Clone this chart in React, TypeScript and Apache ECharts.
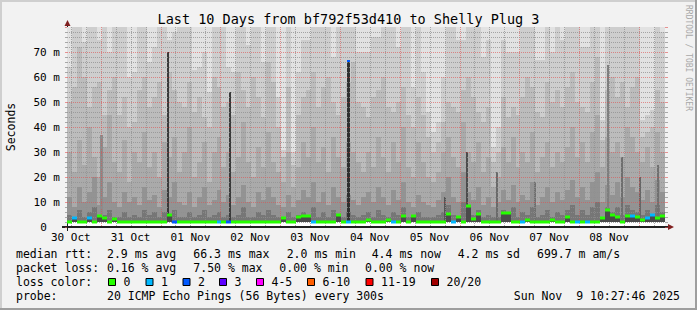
import React, { useEffect, useRef } from 'react';
import * as echarts from 'echarts';

// ---------- time frame (hours since 30 Oct 00:00) ----------
const START_HOUR = 10.4628; // Thu Oct 30 10:27:46
const END_HOUR = START_HOUR + 240; // Sun Nov 9 10:27:46
const COL_HOURS = 2;
const Y_MAX = 80;
const SMOKE_BASE = 2.0;

const dayLabels = ['30 Oct', '31 Oct', '01 Nov', '02 Nov', '03 Nov', '04 Nov', '05 Nov', '06 Nov', '07 Nov', '08 Nov'];
const dayLabelHours = [12, 36, 60, 84, 108, 132, 156, 180, 204, 228];

// ---------- smoke bands (ms), one value per 2h column ----------
const smokeTop1 = [
  64, 80, 80, 74, 80, 80, 75, 80, 70, 80,
  80, 80, 60, 62, 80, 80, 66, 72, 80, 80,
  75, 78, 80, 80, 80, 63, 64, 70, 54, 80,
  80, 80, 64, 62, 80, 80, 73, 80, 80, 66,
  80, 80, 52, 31, 80, 30, 62, 75, 75, 80,
  80, 80, 80, 68, 80, 80, 80, 80, 70, 70,
  70, 76, 76, 80, 80, 80, 72, 80, 80, 56,
  80, 62, 46, 38, 42, 60, 80, 80, 75, 75,
  80, 80, 80, 68, 75, 32, 40, 75, 70, 70,
  70, 80, 80, 80, 67, 67, 80, 70, 80, 75,
  80, 80, 80, 72, 72, 80, 80, 43, 80, 80,
  80, 80, 80, 80, 80, 43, 45, 47, 80, 78,
];
const smokeTop2 = [
  50, 56, 72, 60, 48, 56, 58, 45, 55, 60,
  45, 52, 40, 42, 55, 60, 48, 52, 58, 45,
  62, 55, 50, 48, 58, 46, 52, 44, 40, 60,
  56, 48, 50, 45, 62, 55, 48, 60, 52, 44,
  66, 58, 40, 28, 56, 25, 45, 52, 55, 62,
  48, 56, 60, 50, 45, 52, 58, 66, 50, 48,
  44, 52, 55, 60, 48, 46, 50, 56, 45, 40,
  52, 45, 36, 30, 34, 42, 50, 48, 46, 55,
  60, 52, 46, 42, 48, 26, 30, 52, 44, 48,
  45, 52, 60, 56, 46, 44, 58, 50, 55, 48,
  56, 62, 50, 48, 46, 58, 68, 35, 55, 60,
  52, 58, 48, 56, 60, 36, 38, 40, 55, 50,
];
const smokeTop3 = [
  30, 22, 35, 25, 40, 28, 20, 32, 45, 26,
  22, 35, 18, 30, 26, 38, 24, 30, 20, 34,
  28, 36, 22, 30, 40, 20, 26, 34, 18, 30,
  36, 24, 30, 22, 28, 42, 26, 20, 32, 24,
  38, 26, 22, 18, 30, 16, 24, 34, 28, 40,
  26, 32, 22, 36, 28, 24, 34, 30, 26, 22,
  30, 24, 36, 28, 22, 34, 26, 40, 24, 20,
  34, 26, 20, 18, 22, 30, 36, 28, 24, 42,
  30, 26, 34, 22, 28, 16, 20, 32, 26, 36,
  24, 30, 26, 38, 22, 28, 34, 24, 30, 26,
  32, 40, 28, 34, 26, 38, 45, 24, 36, 30,
  34, 28, 40, 36, 30, 26, 32, 24, 38, 30,
];
const smokeTop4 = [
  12, 8, 16, 10, 14, 20, 9, 12, 18, 10,
  8, 14, 10, 12, 9, 16, 11, 13, 8, 15,
  12, 18, 10, 9, 14, 8, 12, 16, 9, 11,
  15, 10, 13, 9, 12, 17, 10, 8, 14, 11,
  16, 12, 9, 8, 13, 8, 11, 15, 12, 18,
  10, 14, 9, 16, 12, 10, 13, 11, 9, 12,
  14, 10, 16, 12, 9, 15, 11, 18, 10, 8,
  13, 10, 9, 8, 11, 14, 20, 12, 10, 22,
  14, 11, 16, 9, 12, 8, 10, 15, 11, 17,
  10, 13, 11, 18, 9, 12, 16, 10, 14, 11,
  15, 19, 12, 16, 11, 18, 22, 10, 17, 13,
  18, 12, 20, 16, 14, 11, 15, 10, 19, 14,
];
const smokeTop5 = [
  5, 4, 7, 4, 6, 8, 4, 5, 7, 4,
  4, 6, 4, 5, 4, 7, 5, 6, 4, 6,
  5, 7, 4, 4, 6, 4, 5, 7, 4, 5,
  6, 4, 5, 4, 5, 8, 4, 4, 6, 5,
  7, 5, 4, 4, 6, 4, 5, 6, 5, 8,
  4, 6, 4, 7, 5, 4, 6, 5, 4, 5,
  6, 4, 7, 5, 4, 6, 5, 8, 4, 4,
  6, 4, 4, 4, 5, 6, 9, 5, 4, 10,
  6, 5, 7, 4, 5, 4, 4, 7, 5, 8,
  4, 6, 5, 8, 4, 5, 7, 4, 6, 5,
  7, 9, 5, 7, 5, 8, 10, 4, 8, 6,
  8, 5, 9, 7, 6, 5, 7, 4, 9, 6,
];

// ---------- median rtt (ms) and lost pings per column ----------
const medianMs = [
  2.1, 3.6, 2.1, 2.1, 3.7, 2.1, 4.5, 3.5, 2.1, 3.4,
  2.1, 2.1, 2.1, 2.1, 2.1, 2.1, 2.1, 2.1, 2.1, 2.1,
  5.0, 2.1, 2.1, 2.1, 2.1, 2.1, 2.1, 2.1, 2.1, 2.1,
  2.1, 2.1, 2.1, 2.1, 2.1, 2.1, 2.1, 2.1, 2.1, 2.1,
  2.1, 2.1, 2.1, 3.5, 2.1, 2.1, 4.0, 4.5, 4.5, 2.1,
  2.1, 2.1, 2.1, 2.1, 4.8, 2.1, 2.1, 2.1, 2.1, 2.1,
  3.0, 2.1, 2.1, 2.1, 3.0, 2.1, 2.1, 4.3, 2.1, 4.3,
  2.1, 2.1, 2.1, 2.1, 2.1, 2.1, 5.3, 2.1, 4.0, 2.1,
  8.5, 3.3, 5.3, 2.1, 2.1, 2.1, 2.1, 5.5, 5.5, 2.1,
  2.1, 2.1, 3.0, 2.1, 2.1, 2.1, 2.1, 3.0, 2.1, 2.1,
  4.0, 2.1, 2.1, 2.1, 2.1, 2.1, 2.1, 3.5, 6.9, 5.0,
  4.0, 2.1, 4.5, 4.5, 4.0, 3.0, 3.5, 4.7, 3.5, 4.5,
];
const lossCount = [
  0, 1, 0, 0, 1, 0, 0, 0, 0, 0,
  0, 0, 0, 0, 0, 0, 0, 0, 0, 0,
  0, 2, 0, 0, 0, 0, 0, 0, 0, 0,
  1, 0, 2, 0, 0, 0, 0, 0, 0, 0,
  0, 0, 0, 0, 0, 0, 0, 0, 0, 1,
  0, 0, 0, 0, 0, 0, 1, 0, 0, 0,
  0, 0, 0, 0, 0, 1, 0, 0, 0, 0,
  0, 0, 0, 0, 0, 0, 0, 1, 0, 0,
  0, 0, 0, 0, 0, 0, 0, 0, 0, 0,
  0, 1, 0, 0, 0, 0, 0, 0, 0, 0,
  0, 0, 1, 0, 1, 0, 0, 0, 0, 0,
  0, 0, 0, 1, 0, 0, 1, 1, 0, 0,
];

// ---------- dense smoke spikes ----------
const spikeHours = [51.0, 75.7, 123.4, 171.0, 227.6, 24.3, 162.2, 183.0, 198.3, 233.2, 240.4, 247.7];
const spikeTops = [70, 54, 66.5, 30, 65, 37, 12, 22, 18, 28, 20, 25];
const spikeShades = ['#3a3a3a', '#3a3a3a', '#2e2e2e', '#4c4c4c', '#7e7e7e', '#8c8c8c', '#555555', '#6a6a6a', '#707070', '#6e6e6e', '#666666', '#707070'];
const spikeWidths = [2, 2, 3, 2, 2, 3, 2, 2, 2, 2, 2, 2];
const spikeCapLoss = [-1, -1, 2, -1, -1, -1, -1, -1, -1, -1, -1, -1];

// ---------- legend ----------
const lossLegend = ['0', '1', '2', '3', '4-5', '6-10', '11-19', '20/20'];
const lossColors = ['#26ff00', '#00b8ff', '#0059ff', '#5e00ff', '#ff00ff', '#ff5e00', '#ff0000', '#a10000'];
const medianStats = ['2.9 ms avg', '66.3 ms max', '2.0 ms min', '4.4 ms now', '4.2 ms sd', '699.7 m am/s'];
const lossStats = ['0.16 % avg', '7.50 % max', '0.00 % min', '0.00 % now'];
const probeText = '20 ICMP Echo Pings (56 Bytes) every 300s';
const dateText = 'Sun Nov \u00a09 10:27:46 2025';
const titleText = 'Last 10 Days from bf792f53d410 to Shelly Plug 3';
const yAxisTitle = 'Seconds';

// ---------- styling ----------
const FONT = "'DejaVu Sans Mono', monospace";
const SHADES = ['#cecece', '#bcbcbc', '#aaaaaa', '#939393', '#767676'];
const TOP_SHADE = '#e2e2e2';
const GRID_MINOR = 'rgba(143,143,143,0.75)';
const GRID_MAJOR = 'rgba(222,80,80,0.6)';
const ARROW = '#801f1f';
const AXIS = '#1f1f1f';

const medianX = [16, 107, 193.3, 286.7, 371.7, 457.7, 537];
const lossX = [16, 107, 193.3, 279.3, 365];
const boxX = [108, 145.5, 182.5, 219, 256, 307, 365.5, 431];
const rowY = [254.3, 268.3, 282.3, 296];

function txt(text: string, x: number, y: number, o: any = {}) {
  return {
    type: 'text',
    x,
    y,
    rotation: o.rotation || 0,
    silent: true,
    style: {
      text,
      fontSize: o.size || 11.5,
      fontFamily: FONT,
      fill: o.fill || '#000',
      align: o.align || 'left',
      verticalAlign: o.vAlign || 'middle',
    },
  };
}

export default function App() {
  const ref = useRef<HTMLDivElement>(null);

  useEffect(() => {
    const chart = echarts.init(ref.current as HTMLDivElement, null, { renderer: 'svg' });

    const colHours = smokeTop1.map((_, i) => START_HOUR + i * COL_HOURS);
    const smokeData = colHours.map((h, i) => [h, smokeTop1[i], smokeTop2[i], smokeTop3[i], smokeTop4[i], smokeTop5[i]]);
    const medianData = colHours.map((h, i) => [h, medianMs[i], lossCount[i]]);
    const spikeData = spikeHours.map((h, i) => [h, spikeTops[i], i]);

    const gridLines: number[][] = [];
    for (let h = 12; h < END_HOUR; h += 6) gridLines.push([h, 0, h % 24 === 0 ? 1 : 0, 0]);
    for (let v = 2; v < Y_MAX; v += 2) gridLines.push([START_HOUR, v, v % 10 === 0 ? 1 : 0, 1]);

    const option: any = {
      animation: false,
      backgroundColor: '#f2f2f2',
      grid: {
        left: 67,
        right: 32,
        top: 27,
        bottom: 83,
        containLabel: false,
        outerBoundsMode: 'none',
        show: true,
        backgroundColor: '#ffffff',
        borderWidth: 0,
      },
      xAxis: {
        type: 'value',
        min: START_HOUR,
        max: END_HOUR,
        axisLine: { show: true, lineStyle: { color: AXIS, width: 2 } },
        axisTick: { show: false },
        splitLine: { show: false },
        axisLabel: {
          customValues: dayLabelHours,
          formatter: (v: number) => {
            const k = dayLabelHours.indexOf(Math.round(v));
            return k >= 0 ? dayLabels[k] : '';
          },
          fontSize: 11,
          fontFamily: FONT,
          color: '#000',
          margin: 5,
        },
      },
      yAxis: [
        {
          type: 'value',
          min: 0,
          max: Y_MAX,
          interval: 10,
          axisLine: { show: true, lineStyle: { color: AXIS, width: 1 } },
          axisTick: { show: true, length: 2, lineStyle: { color: GRID_MAJOR } },
          minorTick: { show: true, splitNumber: 5, length: 2, lineStyle: { color: GRID_MINOR } },
          splitLine: { show: false },
          axisLabel: {
            formatter: (v: number) => (v >= Y_MAX ? '' : v === 0 ? '0\u00a0\u00a0' : `${v} m`),
            fontSize: 11,
            fontFamily: FONT,
            color: '#000',
            margin: 7,
          },
        },
        {
          type: 'value',
          min: 0,
          max: Y_MAX,
          interval: 10,
          position: 'right',
          axisLine: { show: false },
          axisTick: { show: true, length: 3, lineStyle: { color: GRID_MAJOR } },
          minorTick: { show: true, splitNumber: 5, length: 3, lineStyle: { color: GRID_MINOR } },
          splitLine: { show: false },
          axisLabel: { show: false },
        },
      ],
      series: [
        {
          type: 'custom',
          name: 'smoke',
          z: 1,
          silent: true,
          data: smokeData,
          encode: { x: 0, y: 1 },
          renderItem: (params: any, api: any) => {
            const h = api.value(0);
            const a = api.coord([h, SMOKE_BASE]);
            const b = api.coord([h + COL_HOURS, SMOKE_BASE]);
            const x0 = Math.round(a[0]);
            const x1 = Math.round(b[0]);
            const yb = Math.round(a[1]);
            const cs = params.coordSys;
            const children: any[] = [
              { type: 'rect', shape: { x: x0, y: cs.y, width: x1 - x0, height: yb - cs.y }, style: { fill: TOP_SHADE } },
            ];
            for (let k = 1; k <= 5; k++) {
              const y = Math.round(api.coord([h, Math.min(api.value(k), Y_MAX)])[1]);
              children.push({ type: 'rect', shape: { x: x0, y, width: x1 - x0, height: yb - y }, style: { fill: SHADES[k - 1] } });
            }
            return { type: 'group', children };
          },
        },
        {
          type: 'custom',
          name: 'spikes',
          z: 2,
          silent: true,
          data: spikeData,
          encode: { x: 0, y: 1 },
          renderItem: (params: any, api: any) => {
            const h = api.value(0);
            const idx = api.value(2);
            const p = api.coord([h, api.value(1)]);
            const yb = Math.round(api.coord([h, SMOKE_BASE])[1]);
            const w = spikeWidths[idx];
            const x = Math.round(p[0] - w / 2);
            const y = Math.round(p[1]);
            const children: any[] = [
              { type: 'rect', shape: { x, y, width: w, height: yb - y }, style: { fill: spikeShades[idx] } },
            ];
            if (spikeCapLoss[idx] >= 0) {
              children.push({ type: 'rect', shape: { x, y: y - 1, width: w, height: 2 }, style: { fill: lossColors[spikeCapLoss[idx]] } });
            }
            return { type: 'group', children };
          },
        },
        {
          type: 'custom',
          name: 'median',
          z: 4,
          silent: true,
          data: medianData,
          encode: { x: 0, y: 1 },
          renderItem: (params: any, api: any) => {
            const h = api.value(0);
            const m = api.value(1);
            const loss = api.value(2);
            const a = api.coord([h, m]);
            const b = api.coord([h + COL_HOURS, m]);
            const x0 = Math.round(a[0]);
            const x1 = Math.round(b[0]);
            const yb = Math.round(api.coord([h, SMOKE_BASE])[1]);
            const y = Math.round(a[1]);
            const children: any[] = [];
            if (m > 2.6) {
              children.push({ type: 'rect', shape: { x: x0, y, width: x1 - x0, height: yb - y }, style: { fill: '#4a4a4a' } });
            }
            children.push({ type: 'rect', shape: { x: x0, y: y - 1.5, width: x1 - x0, height: 3 }, style: { fill: lossColors[loss] } });
            return { type: 'group', children };
          },
        },
        {
          type: 'custom',
          name: 'grid',
          z: 3,
          silent: true,
          data: gridLines,
          encode: { x: 0, y: 1 },
          renderItem: (params: any, api: any) => {
            const cs = params.coordSys;
            const major = api.value(2) === 1;
            const horiz = api.value(3) === 1;
            const stroke = major ? GRID_MAJOR : GRID_MINOR;
            if (horiz) {
              const y = Math.round(api.coord([START_HOUR, api.value(1)])[1]) + 0.5;
              return { type: 'line', shape: { x1: cs.x, y1: y, x2: cs.x + cs.width, y2: y }, style: { stroke, lineWidth: 1, lineDash: [1, 1] } };
            }
            const x = Math.round(api.coord([api.value(0), 0])[0]) + 0.5;
            return { type: 'line', shape: { x1: x, y1: cs.y, x2: x, y2: cs.y + cs.height }, style: { stroke, lineWidth: 1, lineDash: [1, 1] } };
          },
        },
      ],
    };

    chart.setOption(option);

    const pO = chart.convertToPixel({ gridIndex: 0 }, [START_HOUR, 0]) as number[];
    const pT = chart.convertToPixel({ gridIndex: 0 }, [START_HOUR, Y_MAX]) as number[];
    const pR = chart.convertToPixel({ gridIndex: 0 }, [END_HOUR, 0]) as number[];
    const midY = (pO[1] + pT[1]) / 2;

    const graphics: any[] = [
      // frame
      { type: 'rect', silent: true, shape: { x: 0, y: 0, width: 697, height: 2 }, style: { fill: '#cfcfcf' } },
      { type: 'rect', silent: true, shape: { x: 0, y: 0, width: 2, height: 310 }, style: { fill: '#cfcfcf' } },
      { type: 'rect', silent: true, shape: { x: 0, y: 308, width: 697, height: 2 }, style: { fill: '#9e9e9e' } },
      { type: 'rect', silent: true, shape: { x: 695, y: 0, width: 2, height: 310 }, style: { fill: '#9e9e9e' } },
      // axis extensions and arrows
      { type: 'line', silent: true, shape: { x1: pO[0] - 5, y1: pO[1], x2: pR[0] + 4, y2: pR[1] }, style: { stroke: AXIS, lineWidth: 2 } },
      { type: 'line', silent: true, shape: { x1: pO[0] + 0.5, y1: pO[1] + 4, x2: pT[0] + 0.5, y2: pT[1] - 3 }, style: { stroke: AXIS, lineWidth: 1 } },
      { type: 'polygon', silent: true, shape: { points: [[pT[0] - 2.5, pT[1] - 1], [pT[0] + 3.5, pT[1] - 1], [pT[0] + 0.5, pT[1] - 7]] }, style: { fill: ARROW } },
      { type: 'polygon', silent: true, shape: { points: [[pR[0] + 3, pR[1] - 3], [pR[0] + 3, pR[1] + 3], [pR[0] + 9, pR[1]]] }, style: { fill: ARROW } },
      // title, axis title & watermark
      txt(titleText, 348.5, 19, { size: 13.5, align: 'center' }),
      txt(yAxisTitle, 11, midY, { size: 11.5, align: 'center', rotation: Math.PI / 2 }),
      txt('RRDTOOL / TOBI OETIKER', 688, 5, { size: 8, fill: '#a8a8a8', rotation: -Math.PI / 2 }),
      // legend rows
      txt('median rtt:', medianX[0], rowY[0]),
      ...medianStats.map((s, i) => txt(s, medianX[i + 1], rowY[0])),
      txt('packet loss:', lossX[0], rowY[1]),
      ...lossStats.map((s, i) => txt(s, lossX[i + 1], rowY[1])),
      txt('loss color:', 16, rowY[2]),
      ...lossLegend.map((_, i) => ({
        type: 'rect',
        silent: true,
        shape: { x: boxX[i] + 0.5, y: rowY[2] - 3.8, width: 7, height: 7 },
        style: { fill: lossColors[i], stroke: '#000', lineWidth: 1 },
      })),
      ...lossLegend.map((s, i) => txt(s, boxX[i] + 15.5, rowY[2])),
      txt('probe:', 16, rowY[3]),
      txt(probeText, 107, rowY[3]),
      txt(dateText, 680, rowY[3], { align: 'right' }),
    ];

    chart.setOption({ graphic: graphics });

    return () => chart.dispose();
  }, []);

  return <div ref={ref} style={{ position: 'fixed', left: 0, top: 0, width: 697, height: 310 }} />;
}
